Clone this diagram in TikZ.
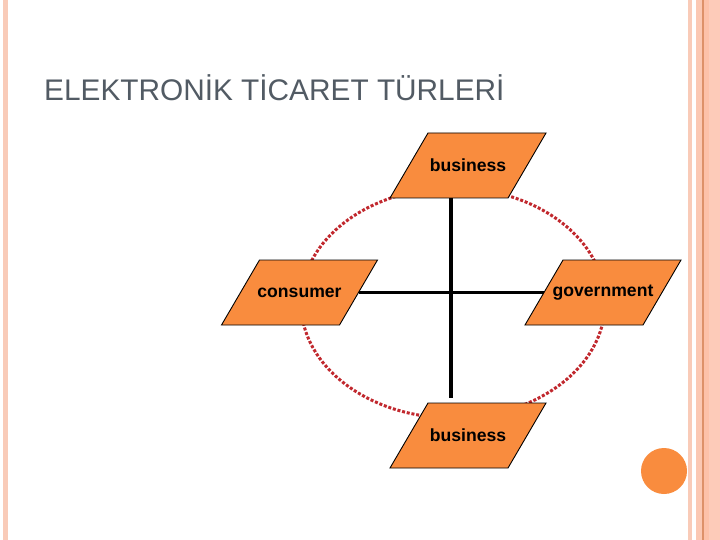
\documentclass[tikz,border=0pt]{standalone}
\usepackage{fontspec}
\setmainfont{Liberation Sans}
\usetikzlibrary{calc}
\definecolor{nodeorange}{HTML}{F98C3E}
\definecolor{dotred}{HTML}{C1282E}
\definecolor{titlegray}{HTML}{525B64}
\definecolor{stripeA}{HTML}{F9CBB8}
\definecolor{stripeB}{HTML}{FBC8B3}
\definecolor{stripeC}{HTML}{DE9169}
\definecolor{stripeD}{HTML}{FDC1A9}
\definecolor{stripeE}{HTML}{FDCBB9}
\begin{document}
\begin{tikzpicture}[x=1pt,y=-1pt,
  boxline/.style={draw=black, line width=0.9pt, fill=nodeorange, line join=miter},
  boxtext/.style={inner sep=0pt, font=\fontsize{17.6}{20}\selectfont\bfseries},
  para/.pic={
    \draw[boxline] (-78,32.5) -- (40,32.5) -- (78,-32.5) -- (-40,-32.5) -- cycle;
    \node[boxtext] (-txt) at (0,0) {#1};
    \coordinate (-e) at (59,0);
    \coordinate (-w) at (-59,0);
    \coordinate (-s) at (-17,32.5);
    \coordinate (-n) at (19,-32.5);
  },
  crossline/.style={line width=3.2pt, black},
  ring/.style={draw=dotred, line width=3pt, dash pattern=on 3pt off 1.8pt},
  titletext/.style={anchor=base west, inner sep=0pt, text=titlegray,
    font=\fontsize{29.8}{34}\selectfont}]
\useasboundingbox (0,0) rectangle (720,540);
\fill[white] (0,0) rectangle (720,540);
% side stripes
\fill[stripeA] (3,0) rectangle (8,540);
\fill[stripeA] (688,0) rectangle (692,540);
\fill[stripeB] (696,0) rectangle (702,540);
\fill[stripeC] (702,0) rectangle (703.5,540);
\fill[stripeD] (703.5,0) rectangle (709,540);
\fill[stripeE] (709,0) rectangle (720,540);
% title
\node[titletext] (title) at (44,101) {ELEKTRONİK TİCARET TÜRLERİ};
% dotted ring
\draw[ring] (453,303) ellipse [x radius=152, y radius=115];
% nodes
\pic (top) at (468,165.5) {para=business};
\pic (bot) at (468,435.5) {para=business};
\pic (cons) at (299.5,292.5) {para=consumer};
\pic (gov) at (603,292.5) {para=government};
% cross
\draw[crossline] (top-s) -- (top-s |- bot-n) [shorten >=5pt];
\draw[crossline] (cons-e) -- (gov-w);
% decoration circle
\fill[nodeorange] (664,471) circle [radius=23];
\end{tikzpicture}
\end{document}
